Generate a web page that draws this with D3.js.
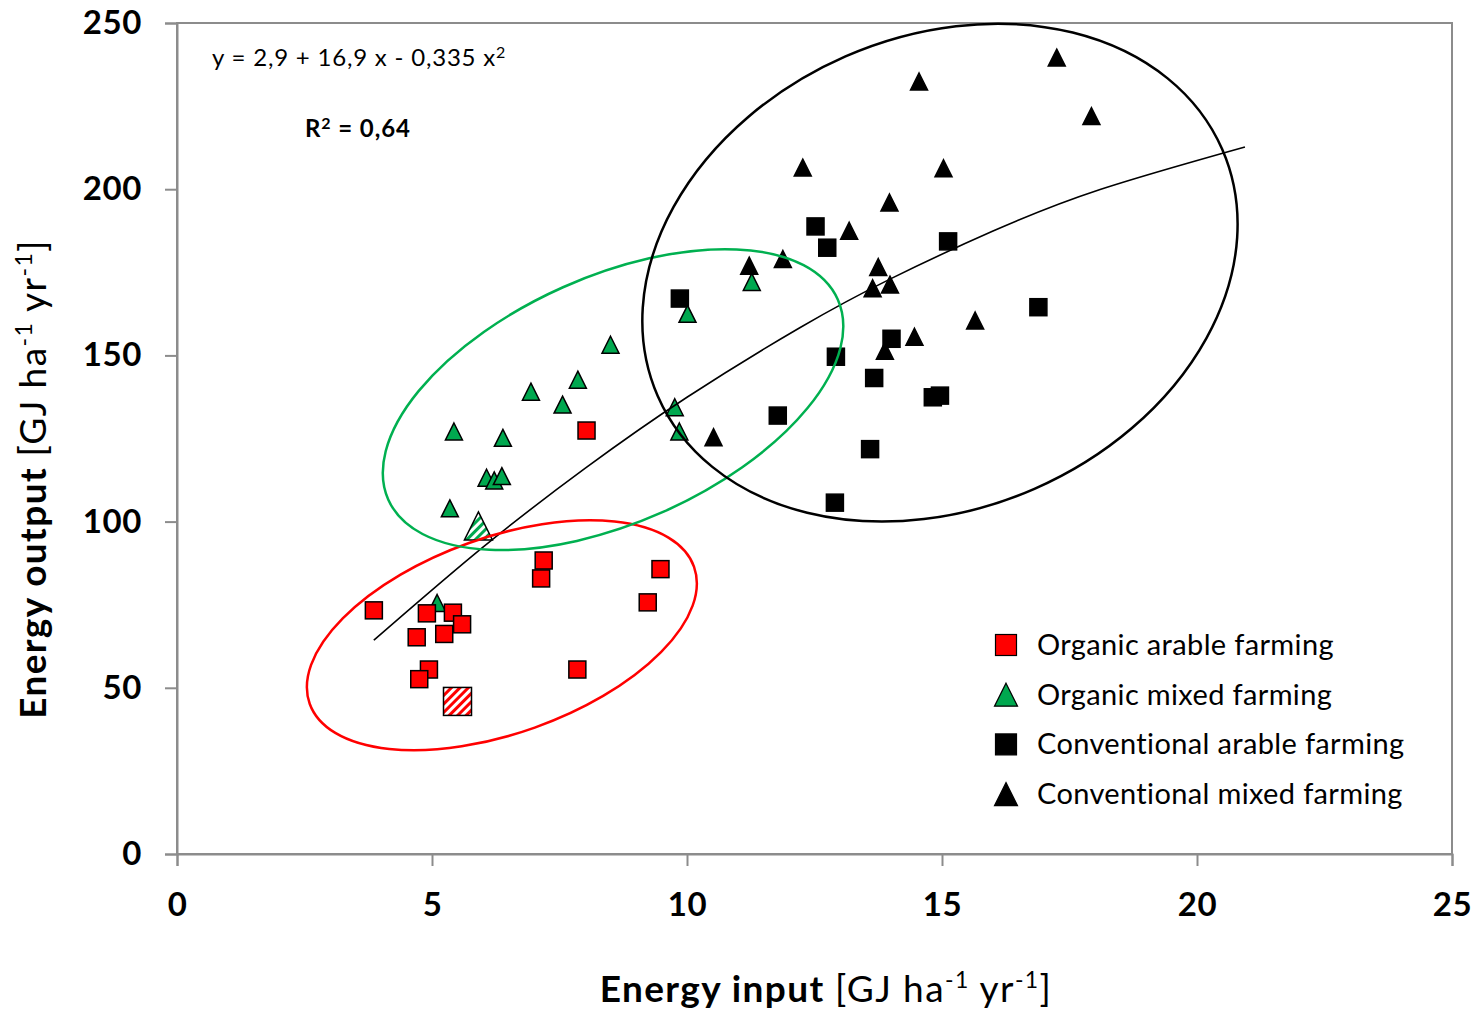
<!DOCTYPE html>
<html>
<head>
<meta charset="utf-8">
<script src="https://cdn.jsdelivr.net/npm/d3@7"></script>
<style>
  body { margin: 0; background: #fff; }
  text { font-family: Lato, "Open Sans", sans-serif; }
</style>
</head>
<body>
<script>
var width = 1483;
var height = 1012;
var margin = {top: 23, left: 177, right: 31, bottom: 158};

// [energy input, energy output] in GJ/ha/yr
var organicArable = [
  [3.86, 73.3], [4.90, 72.4], [5.41, 72.6], [5.59, 69.1], [4.70, 65.2],
  [5.24, 66.2], [4.94, 55.5], [4.75, 52.6], [7.19, 88.3], [7.14, 82.9],
  [9.48, 85.7], [9.23, 75.7], [7.85, 55.5], [8.03, 127.4]
];
var organicMixed = [
  [8.50, 153.2], [7.86, 142.7], [6.94, 139.1], [7.56, 135.2], [5.43, 127.1],
  [6.39, 125.2], [6.07, 113.2], [6.22, 112.4], [6.37, 113.7], [5.35, 104.0],
  [9.76, 134.4], [9.85, 127.1], [11.27, 172.1], [10.01, 162.5], [5.10, 75.5]
];
var conventionalArable = [
  [12.52, 188.8], [12.75, 182.4], [15.12, 184.3], [9.86, 167.1], [16.89, 164.5],
  [14.01, 155.0], [12.92, 149.6], [13.67, 143.2], [11.78, 131.9], [14.82, 137.4],
  [14.96, 137.9], [13.59, 121.8], [12.90, 105.7]
];
var conventionalMixed = [
  [17.25, 239.6], [14.55, 232.4], [17.93, 222.0], [12.27, 206.5], [15.03, 206.3],
  [13.97, 196.0], [13.18, 187.5], [11.22, 177.0], [11.88, 179.0], [13.75, 176.6],
  [13.64, 170.2], [13.98, 171.3], [15.65, 160.5], [14.46, 155.6], [13.88, 151.4],
  [10.52, 125.4]
];
// hatched (highlighted) markers
var organicArableHatched = [[5.50, 45.9]];
var organicMixedHatched = [[5.91, 98.7]];

// points
var trendX = [3.86, 6, 8, 10, 12.22, 14, 16, 18.1, 20.94];
var trendY = [64.3, 92.3, 116.0, 137.4, 158.4, 173.1, 187.4, 199.9, 212.7];

var xTicks = [0, 5, 10, 15, 20, 25];
var yTicks = [0, 50, 100, 150, 200, 250];

var legendLabels = ["Organic arable farming", "Organic mixed farming",
  "Conventional arable farming", "Conventional mixed farming"];

var red = "#ff0000", green = "#00a84f", axisGrey = "#8c8c8c";

var svg = d3.select("body")
  .append("svg")
  .attr("width", width)
  .attr("height", height);

var defs = svg.append("defs");
function hatch(id, color) {
  var p = defs.append("pattern")
    .attr("id", id)
    .attr("patternUnits", "userSpaceOnUse")
    .attr("width", 6).attr("height", 6)
    .attr("patternTransform", "rotate(45)");
  p.append("rect").attr("width", 6).attr("height", 6).attr("fill", "#fff");
  p.append("rect").attr("width", 3).attr("height", 6).attr("fill", color);
}
hatch("hatchRed", red);
hatch("hatchGreen", green);

var xScale = d3.scaleLinear()
  .domain([0, 25])
  .range([margin.left, width - margin.right]);

var yScale = d3.scaleLinear()
  .domain([0, 250])
  .range([height - margin.bottom, margin.top]);

// plot frame
svg.append("rect")
  .attr("x", xScale(0)).attr("y", yScale(250))
  .attr("width", xScale(25) - xScale(0))
  .attr("height", yScale(0) - yScale(250))
  .attr("fill", "none")
  .attr("stroke", axisGrey)
  .attr("stroke-width", 2);

var xAxis = svg.append("g")
  .attr("transform", `translate(0,${yScale(0)})`)
  .call(d3.axisBottom(xScale).tickValues(xTicks).tickSize(12).tickPadding(27));

var yAxis = svg.append("g")
  .attr("transform", `translate(${xScale(0)},0)`)
  .call(d3.axisLeft(yScale).tickValues(yTicks).tickSize(12).tickPadding(23));

[xAxis, yAxis].forEach(function(ax) {
  ax.selectAll("path, line").attr("stroke", axisGrey).attr("stroke-width", 2);
  ax.selectAll("text")
    .attr("fill", "#000")
    .style("font-family", "Lato, sans-serif")
    .style("font-size", "33px")
    .style("letter-spacing", "0.6px")
    .style("font-weight", "bold");
});

function trianglePath(s) {
  return `M0,${-s / 2}L${s / 2},${s / 2}L${-s / 2},${s / 2}Z`;
}

// markers
function squares(data, fill, stroke, size) {
  svg.append("g").selectAll("rect")
    .data(data)
    .enter()
    .append("rect")
      .attr("x", function(d) { return xScale(d[0]) - size / 2; })
      .attr("y", function(d) { return yScale(d[1]) - size / 2; })
      .attr("width", size)
      .attr("height", size)
      .attr("fill", fill)
      .attr("stroke", stroke)
      .attr("stroke-width", 1.5);
}
function triangles(data, fill, stroke, size) {
  svg.append("g").selectAll("path")
    .data(data)
    .enter()
    .append("path")
      .attr("d", trianglePath(size))
      .attr("transform", function(d) { return `translate(${xScale(d[0])},${yScale(d[1])})`; })
      .attr("fill", fill)
      .attr("stroke", stroke)
      .attr("stroke-width", 1.5);
}

squares(conventionalArable, "#000", "#000", 17);
triangles(conventionalMixed, "#000", "#000", 17);
triangles(organicMixed, green, "#000", 17);
triangles(organicMixedHatched, "url(#hatchGreen)", "#000", 28);
squares(organicArable, red, "#000", 17);
squares(organicArableHatched, "url(#hatchRed)", "#000", 28);

// regression curve
var trendData = trendX.map(function(x, i) { return [x, trendY[i]]; });
svg.append("path")
  .datum(trendData)
  .attr("fill", "none")
  .attr("stroke", "#000")
  .attr("stroke-width", 1.6)
  .attr("d", d3.line()
    .x(function(d) { return xScale(d[0]); })
    .y(function(d) { return yScale(d[1]); })
    .curve(d3.curveNatural));

// group ellipses: centre in data units, radii in px, rotation in degrees
var ellipses = [
  {cx: 6.37, cy: 65.8, rx: 204, ry: 98, angle: -19.6, color: red},
  {cx: 8.55, cy: 136.7, rx: 246, ry: 123, angle: -24, color: "#00b050"},
  {cx: 14.96, cy: 174.9, rx: 308, ry: 236, angle: -23.6, color: "#000"}
];
svg.append("g").selectAll("ellipse")
  .data(ellipses)
  .enter()
  .append("ellipse")
    .attr("transform", function(d) {
      return `translate(${xScale(d.cx)},${yScale(d.cy)}) rotate(${d.angle})`;
    })
    .attr("rx", function(d) { return d.rx; })
    .attr("ry", function(d) { return d.ry; })
    .attr("fill", "none")
    .attr("stroke", function(d) { return d.color; })
    .attr("stroke-width", 2.5);

// equation and R²
var eq = svg.append("text")
  .attr("x", 212).attr("y", 66)
  .style("font-size", "24px")
  .style("letter-spacing", "0.8px")
  .text("y = 2,9 + 16,9 x - 0,335 x");
eq.append("tspan").attr("dy", -8).style("font-size", "16px").text("2");

var r2 = svg.append("text")
  .attr("x", 305).attr("y", 137)
  .style("font-size", "24px")
  .style("letter-spacing", "0.9px")
  .style("font-weight", "bold")
  .text("R");
r2.append("tspan").attr("dy", -8).style("font-size", "16px").text("2");
r2.append("tspan").attr("dy", 8).text(" = 0,64");

// legend
var legend = svg.append("g");
var legendRows = legend.selectAll("g")
  .data(legendLabels)
  .enter()
  .append("g")
    .attr("transform", function(d, i) { return `translate(1006,${645 + i * 49.7})`; });

legendRows.each(function(d, i) {
  var g = d3.select(this);
  if (i % 2 === 0) {
    g.append("rect")
      .attr("x", -10.5).attr("y", -10.5)
      .attr("width", 21).attr("height", 21)
      .attr("fill", i === 0 ? red : "#000")
      .attr("stroke", "#000")
      .attr("stroke-width", 1.2);
  } else {
    g.append("path")
      .attr("d", trianglePath(23))
      .attr("fill", i === 1 ? green : "#000")
      .attr("stroke", "#000")
      .attr("stroke-width", 1.2);
  }
  g.append("text")
    .attr("x", 31).attr("y", 10)
    .style("font-size", "29px")
    .style("letter-spacing", "0.35px")
    .text(d);
});

// axis titles
function axisTitle(sel, bold) {
  sel.style("font-size", "37px").style("letter-spacing", "1.4px");
  sel.append("tspan").style("font-weight", "bold").text(bold);
  sel.append("tspan").text("[GJ ha");
  sel.append("tspan").attr("dy", -14).style("font-size", "23px").text("-1");
  sel.append("tspan").attr("dy", 14).text(" yr");
  sel.append("tspan").attr("dy", -14).style("font-size", "23px").text("-1");
  sel.append("tspan").attr("dy", 14).text("]");
}

axisTitle(svg.append("text")
  .attr("x", 826).attr("y", 1002)
  .attr("text-anchor", "middle"), "Energy input ");

axisTitle(svg.append("text")
  .attr("transform", "translate(46,479) rotate(-90)")
  .attr("text-anchor", "middle"), "Energy output ");
</script>
</body>
</html>
